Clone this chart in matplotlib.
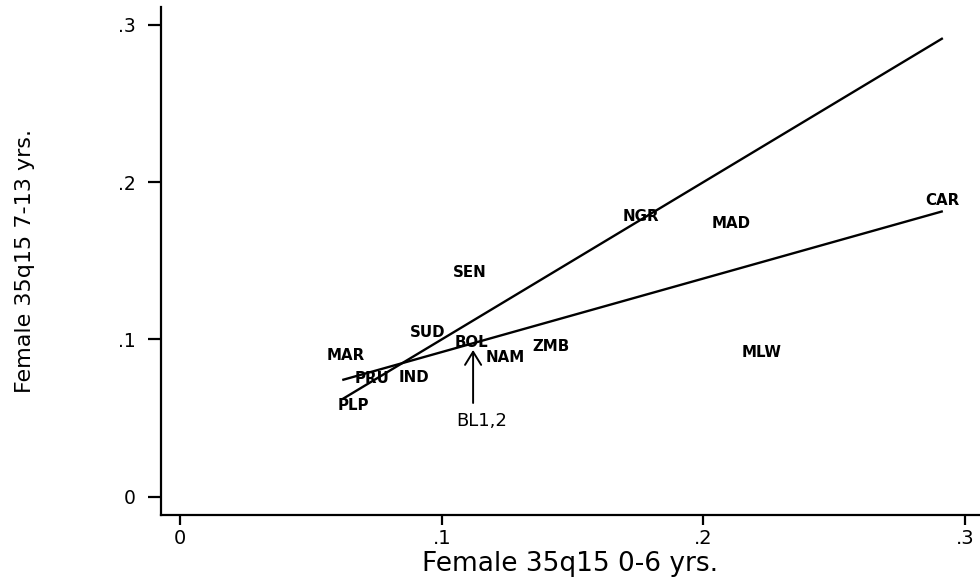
import matplotlib
matplotlib.use("Agg")
import matplotlib.pyplot as plt

# country labels, plotted as text markers at (x, y)
countries = ["MAR", "PRU", "IND", "PLP", "SUD", "BOL", "NAM", "ZMB",
             "SEN", "NGR", "MAD", "MLW", "CAR"]
q_0_6 = [0.0634, 0.0734, 0.0894, 0.0661, 0.0948, 0.1112, 0.1242, 0.1418,
         0.1108, 0.1761, 0.2105, 0.2224, 0.2912]
q_7_13 = [0.0901, 0.0754, 0.0761, 0.0583, 0.1047, 0.0983, 0.0888, 0.0952,
          0.1427, 0.1784, 0.1739, 0.0920, 0.1885]

# 45 degree reference line and fitted line
diag_x = [0.062, 0.2915]
diag_y = [0.062, 0.2915]
fit_x = [0.062, 0.2915]
fit_y = [0.0742, 0.1815]

# pooled Bolivia point, shown with an arrow
bl_label = "BL1,2"
bl_text = (0.1154, 0.0481)
bl_tail = (0.112, 0.0596)
bl_tip = (0.112, 0.0933)

ticks = [0, 0.1, 0.2, 0.3]
tick_labels = ["0", ".1", ".2", ".3"]

fig = plt.figure(figsize=(9.8, 5.78), dpi=100)
ax = fig.add_axes([161 / 980, 63 / 578, 819 / 980, 508 / 578])

ax.plot(diag_x, diag_y, color="black", lw=1.7, solid_capstyle="butt")
ax.plot(fit_x, fit_y, color="black", lw=1.7, solid_capstyle="butt")

for name, x, y in zip(countries, q_0_6, q_7_13):
    ax.text(x, y, name, ha="center", va="center", fontsize=10.8,
            fontweight="bold", color="black")

ax.annotate("", xy=bl_tip, xytext=bl_tail,
            arrowprops=dict(arrowstyle="->,head_length=0.47,head_width=0.29",
                            color="black", lw=1.4, mutation_scale=20,
                            shrinkA=0, shrinkB=0))
ax.text(bl_text[0], bl_text[1], bl_label, ha="center", va="center",
        fontsize=13, color="black")

ax.set_xlim(-0.00726, 0.3057)
ax.set_ylim(-0.0116, 0.3113)

ax.set_xticks(ticks)
ax.set_xticklabels(tick_labels, fontsize=14)
ax.set_yticks(ticks)
ax.set_yticklabels(tick_labels, fontsize=13.5)
ax.tick_params(axis="x", length=7.2, width=1.6, pad=3)
ax.tick_params(axis="y", length=9.4, width=1.6, pad=9)

for side in ["top", "right"]:
    ax.spines[side].set_visible(False)
for side in ["left", "bottom"]:
    ax.spines[side].set_linewidth(1.6)

ax.set_xlabel("Female 35q15 0-6 yrs.", fontsize=19)
ax.xaxis.set_label_coords(0.5, -0.110)
ax.xaxis.label.set_va("baseline")

ax.set_ylabel("Female 35q15 7-13 yrs.", fontsize=16)
ax.yaxis.set_label_coords(-0.166, 0.5)
ax.yaxis.label.set_va("center")

fig.savefig("out.png", dpi=100)
